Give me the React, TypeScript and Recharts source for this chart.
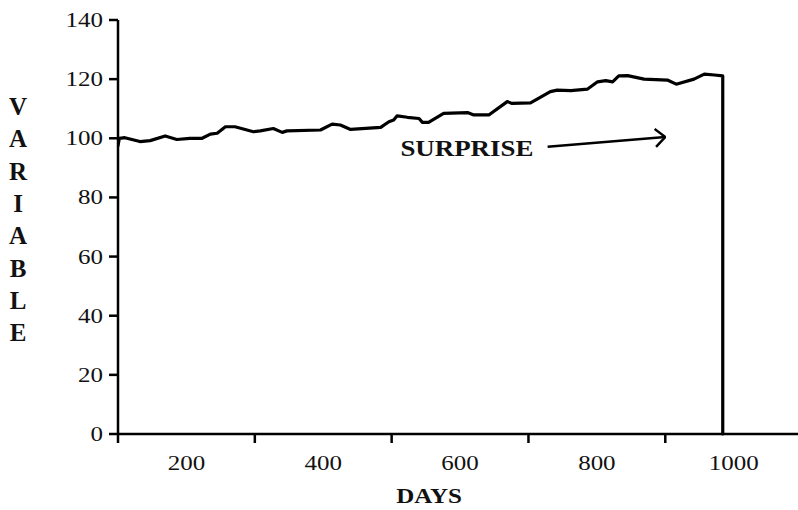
import { LineChart, Line, XAxis, YAxis, ReferenceLine, ReferenceDot } from 'recharts';

// days on the x axis, variable level on the y axis
const days = [100, 102, 110, 132, 147, 169, 186, 205, 223, 235, 245, 257, 271, 298, 308, 327, 340, 347, 396, 413, 425, 440, 484, 496, 503, 508, 523, 540, 545, 554, 576, 611, 620, 642, 669, 676, 703, 732, 742, 762, 786, 801, 813, 823, 832, 845, 869, 903, 916, 942, 957, 972, 984, 984];
const values = [97.5, 100, 100.2, 98.9, 99.2, 100.8, 99.6, 100, 100, 101.4, 101.7, 103.9, 103.9, 102.2, 102.5, 103.3, 102, 102.5, 102.8, 104.8, 104.5, 103, 103.7, 105.6, 106.2, 107.6, 107.1, 106.7, 105.4, 105.4, 108.4, 108.7, 107.9, 107.9, 112.4, 111.8, 112, 115.8, 116.3, 116.1, 116.6, 119.1, 119.5, 119.1, 121.1, 121.2, 120, 119.7, 118.3, 120, 121.7, 121.4, 121.1, 0];

const xTicks = [100, 200, 300, 400, 500, 600, 700, 800, 900, 1000];
const yTicks = [0, 20, 40, 60, 80, 100, 120, 140];
const yLabel = 'VARIABLE';
const xLabel = 'DAYS';
const note = 'SURPRISE';
const arrowFrom = { x: 728, y: 97.1 };
const arrowTo = { x: 900, y: 100.4 };
const notePos = { x: 610, y: 96.7 };

const data = days.map((d, i) => ({ day: d, value: values[i] }));

const FONT = '"Liberation Serif", "Times New Roman", serif';
const INK = '#111';

const XTick = (props: any) => {
  const { x, y, payload } = props;
  const v = payload.value;
  if (v % 200 === 100) {
    return <line x1={x} x2={x} y1={y} y2={y + 9} stroke="#000" strokeWidth={2.5} />;
  }
  return (
    <text transform={`translate(${x},${y + 36}) scale(1.25,1)`} textAnchor="middle" fontFamily={FONT} fontSize={20} fill={INK}>
      {v}
    </text>
  );
};

const YTick = (props: any) => {
  const { x, y, payload } = props;
  return (
    <text transform={`translate(${x},${y + 7}) scale(1.25,1)`} textAnchor="end" fontFamily={FONT} fontSize={20} fill={INK}>
      {payload.value}
    </text>
  );
};

const VariableLabel = () => (
  <text fontFamily={FONT} fontSize={25} fontWeight="bold" fill={INK} textAnchor="middle">
    {yLabel.split('').map((c, i) => (
      <tspan key={i} x={18} y={115 + i * 32.3}>{c}</tspan>
    ))}
  </text>
);

const DaysLabel = () => (
  <text transform="translate(429,503) scale(1.25,1)" textAnchor="middle" fontFamily={FONT} fontSize={20} fontWeight="bold" fill={INK}>
    {xLabel}
  </text>
);

const NoteLabel = (props: any) => {
  const vb = props.viewBox || { x: 0, y: 0, width: 0, height: 0 };
  const cx = vb.x + (vb.width || 0) / 2;
  const cy = vb.y + (vb.height || 0) / 2;
  return (
    <text transform={`translate(${cx},${cy + 8}) scale(1.17,1)`} textAnchor="middle" fontFamily={FONT} fontSize={23} fontWeight="bold" fill={INK}>
      {note}
    </text>
  );
};

export default function App() {
  return (
    <div style={{ position: 'absolute', left: 0, top: 0, background: '#fff' }}>
      <LineChart width={798} height={510} data={data} margin={{ top: 20, right: 0, bottom: 0, left: 0 }}>
        <defs>
          <marker id="arrowHead" viewBox="0 0 12 20" refX={11} refY={10} markerWidth={12} markerHeight={20} markerUnits="userSpaceOnUse" orient="auto">
            <path d="M1,1 L11,10 L1,19" fill="none" stroke="#000" strokeWidth={2.5} />
          </marker>
        </defs>
        <XAxis
          dataKey="day"
          type="number"
          domain={[100, 1094]}
          allowDataOverflow
          ticks={xTicks}
          interval={0}
          tick={<XTick />}
          tickLine={false}
          tickSize={0}
          tickMargin={0}
          height={76}
          axisLine={{ stroke: '#000', strokeWidth: 2.5 }}
          label={{ content: <DaysLabel /> }}
        />
        <YAxis
          type="number"
          domain={[0, 140]}
          ticks={yTicks}
          interval={0}
          width={118}
          tick={<YTick />}
          tickSize={9}
          tickMargin={6}
          tickLine={{ stroke: '#000', strokeWidth: 2.5 }}
          axisLine={{ stroke: '#000', strokeWidth: 2.5 }}
          label={{ content: <VariableLabel /> }}
        />
        <Line
          type="linear"
          dataKey="value"
          stroke="#000"
          strokeWidth={3.2}
          strokeLinejoin="round"
          strokeLinecap="round"
          dot={false}
          activeDot={false}
          isAnimationActive={false}
        />
        <ReferenceLine
          segment={[arrowFrom, arrowTo]}
          stroke="#000"
          strokeWidth={2.5}
          markerEnd="url(#arrowHead)"
        />
        <ReferenceDot x={notePos.x} y={notePos.y} r={0} fill="none" stroke="none" label={{ content: <NoteLabel /> }} />
      </LineChart>
    </div>
  );
}
